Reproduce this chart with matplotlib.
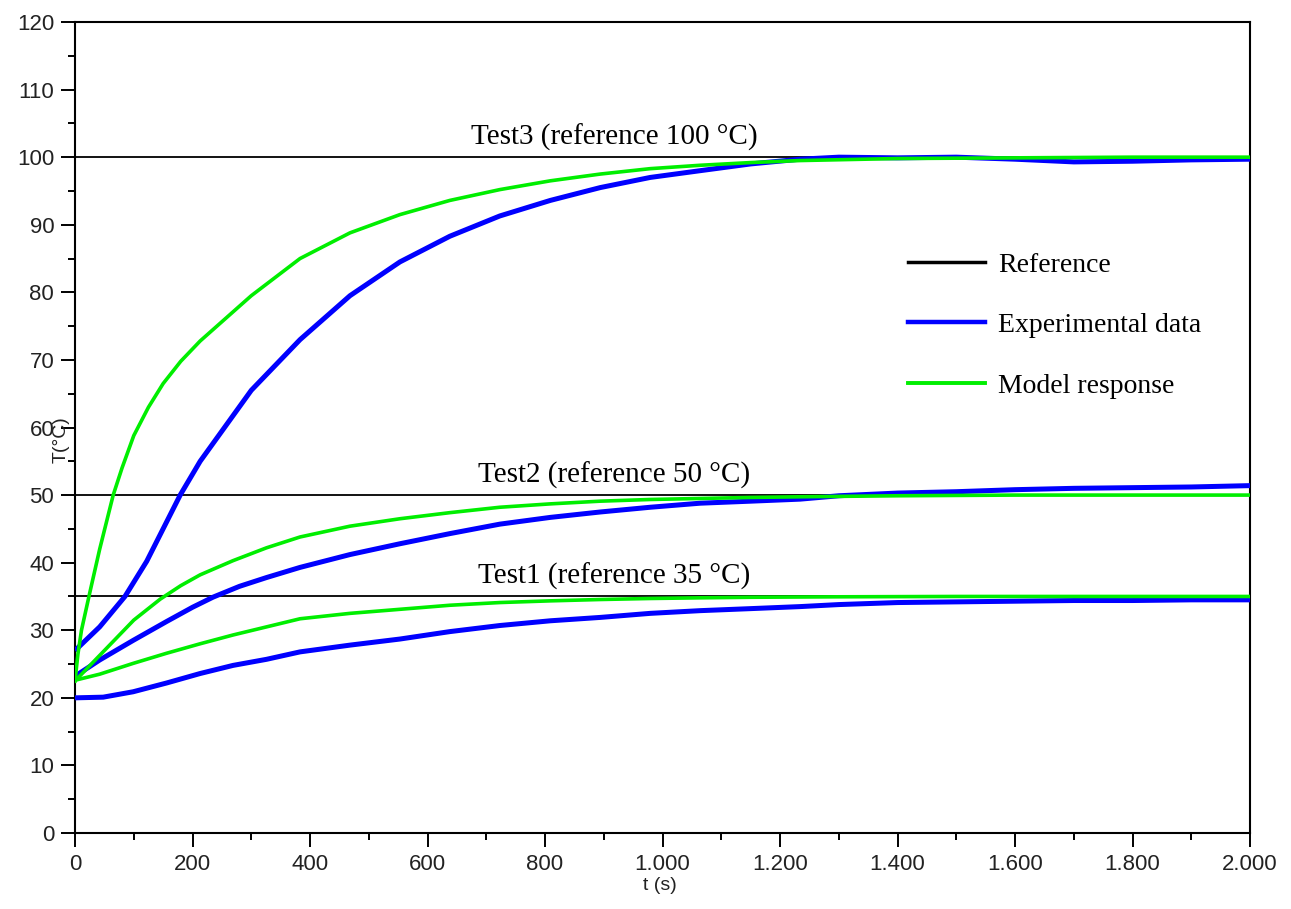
import matplotlib
matplotlib.use("Agg")
import matplotlib.pyplot as plt
from matplotlib.ticker import FuncFormatter, MultipleLocator

# Test3 (reference 100 C)
t_mod3 = [0, 5, 11, 25, 42, 65, 80, 100, 125, 150, 180, 213, 300, 383, 468, 553, 638, 723, 809, 894, 979, 1064, 1150, 1234, 1400, 1600, 1800, 2000]
T_mod3 = [22.5, 26.5, 30, 35.5, 42, 50, 54, 58.8, 63, 66.5, 69.8, 72.8, 79.5, 85, 88.8, 91.5, 93.6, 95.2, 96.5, 97.5, 98.3, 98.8, 99.2, 99.5, 99.8, 99.9, 100, 100]
t_exp3 = [0, 42, 85, 122, 179, 213, 300, 383, 468, 553, 638, 723, 809, 894, 979, 1064, 1150, 1234, 1300, 1400, 1500, 1600, 1700, 1800, 1900, 2000]
T_exp3 = [27, 30.5, 35, 40.2, 50, 55, 65.5, 73, 79.5, 84.5, 88.3, 91.3, 93.6, 95.5, 97, 98, 99, 99.7, 100, 99.9, 100, 99.7, 99.3, 99.4, 99.6, 99.7]

# Test2 (reference 50 C)
t_mod2 = [0, 50, 100, 145, 180, 213, 269, 326, 383, 468, 553, 638, 723, 809, 894, 979, 1064, 1150, 1234, 1400, 1600, 2000]
T_mod2 = [22.5, 27, 31.5, 34.6, 36.6, 38.2, 40.3, 42.2, 43.8, 45.4, 46.5, 47.4, 48.2, 48.7, 49.1, 49.35, 49.5, 49.65, 49.75, 49.9, 50, 50]
t_exp2 = [0, 42, 99, 156, 200, 235, 280, 326, 383, 468, 553, 638, 723, 809, 894, 979, 1064, 1150, 1234, 1300, 1400, 1500, 1600, 1700, 1800, 1900, 2000]
T_exp2 = [23.2, 25.6, 28.5, 31.3, 33.4, 34.9, 36.5, 37.8, 39.3, 41.2, 42.8, 44.3, 45.7, 46.7, 47.5, 48.2, 48.8, 49.1, 49.4, 49.9, 50.3, 50.5, 50.8, 51, 51.1, 51.2, 51.4]

# Test1 (reference 35 C)
t_mod1 = [0, 42, 99, 156, 213, 269, 326, 383, 468, 553, 638, 723, 809, 894, 979, 1064, 1150, 1300, 1500, 2000]
T_mod1 = [22.6, 23.5, 25.1, 26.6, 28.0, 29.3, 30.5, 31.7, 32.5, 33.1, 33.7, 34.1, 34.35, 34.55, 34.7, 34.8, 34.88, 34.95, 35, 35]
t_exp1 = [0, 48, 99, 156, 213, 269, 326, 383, 468, 553, 638, 723, 809, 894, 979, 1064, 1150, 1234, 1300, 1400, 1500, 1600, 1700, 1800, 1900, 2000]
T_exp1 = [20, 20.1, 20.9, 22.2, 23.6, 24.8, 25.7, 26.8, 27.8, 28.7, 29.8, 30.7, 31.4, 31.9, 32.5, 32.9, 33.2, 33.5, 33.8, 34.1, 34.2, 34.3, 34.4, 34.4, 34.5, 34.5]

references = [100, 50, 35]
ref_labels = ["Test3 (reference 100 °C)", "Test2 (reference 50 °C)", "Test1 (reference 35 °C)"]

BLUE = "#0000ff"
GREEN = "#00ee00"
serif = "Liberation Serif"
sans = "Liberation Sans"

fig = plt.figure(figsize=(12.91, 9.09), dpi=100)
ax = fig.add_axes([0.0581, 0.0836, 0.9102, 0.8922])

for r in references:
    ax.axhline(r, color="black", lw=1.3, zorder=2)

for t, T in [(t_exp3, T_exp3), (t_exp2, T_exp2), (t_exp1, T_exp1)]:
    ax.plot(t, T, color=BLUE, lw=3.6, zorder=3, solid_capstyle="butt")
for t, T in [(t_mod3, T_mod3), (t_mod2, T_mod2), (t_mod1, T_mod1)]:
    ax.plot(t, T, color=GREEN, lw=2.6, zorder=4)

for r, lab in zip(references, ref_labels):
    ax.text(918, r + 0.9, lab, ha="center", va="bottom", fontsize=21, family=serif)

# legend handles
h_ref, = ax.plot([], [], color="black", lw=2.5, label="Reference")
h_exp, = ax.plot([], [], color=BLUE, lw=3.2, label="Experimental data")
h_mod, = ax.plot([], [], color=GREEN, lw=2.8, label="Model response")
ax.legend(handles=[h_ref, h_exp, h_mod], loc="upper left", bbox_to_anchor=(0.709, 0.716),
          frameon=False, prop={"family": serif, "size": 20}, handlelength=2.77,
          handletextpad=0.47, labelspacing=1.26, borderpad=0, borderaxespad=0)

ax.set_xlim(0, 2000)
ax.set_ylim(0, 120)
ax.xaxis.set_major_locator(MultipleLocator(200))
ax.xaxis.set_minor_locator(MultipleLocator(100))
ax.yaxis.set_major_locator(MultipleLocator(10))
ax.yaxis.set_minor_locator(MultipleLocator(5))
ax.xaxis.set_major_formatter(FuncFormatter(lambda v, p: f"{int(v):,}".replace(",", ".")))

ax.tick_params(which="both", direction="out", top=False, right=False, width=1.4,
               labelsize=16, colors="black")
ax.tick_params(which="major", length=10, pad=5)
ax.tick_params(which="minor", length=5)
for lab in ax.get_xticklabels() + ax.get_yticklabels():
    lab.set_family(sans)
    lab.set_color("#222222")
for sp in ax.spines.values():
    sp.set_linewidth(1.5)

ax.set_xlabel("t (s)", fontsize=14, family=sans, color="#222222")
ax.set_ylabel("T(°C)", fontsize=14, family=sans, color="#222222")
ax.xaxis.set_label_coords(0.498, -0.054)
ax.yaxis.set_label_coords(-0.005, 0.485)

fig.savefig("out.png", dpi=100)
